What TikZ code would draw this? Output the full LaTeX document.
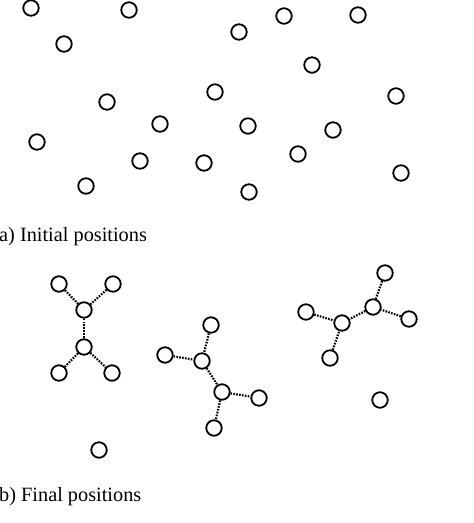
\documentclass[tikz,border=0pt]{standalone}
\usepackage{fontspec}
\setmainfont{Liberation Serif}
\usetikzlibrary{positioning}

\begin{document}
\begin{tikzpicture}[x=1pt,y=-1pt,
    particle/.style={circle,draw,line width=1.8pt,minimum size=15.5pt,inner sep=0pt},
    bond/.style={line width=2.2pt,dash pattern=on 1.6pt off 1.3pt},
    caption/.style={anchor=base west,inner sep=0pt,font=\fontsize{20.3}{24}\selectfont}]
  \useasboundingbox (0,0) rectangle (474,523);

  % (a) initial positions
  \node[particle] (I1)  at (31,8)    {};
  \node[particle] (I2)  at (129,10)  {};
  \node[particle] (I3)  at (64,44)   {};
  \node[particle] (I4)  at (239,32)  {};
  \node[particle] (I5)  at (284,16)  {};
  \node[particle] (I6)  at (358,15)  {};
  \node[particle] (I7)  at (312,65)  {};
  \node[particle] (I8)  at (215,92)  {};
  \node[particle] (I9)  at (107,102) {};
  \node[particle] (I10) at (396,96)  {};
  \node[particle] (I11) at (160,124) {};
  \node[particle] (I12) at (248,126) {};
  \node[particle] (I13) at (333,130) {};
  \node[particle] (I14) at (37,142)  {};
  \node[particle] (I15) at (140,161) {};
  \node[particle] (I16) at (204,163) {};
  \node[particle] (I17) at (298,154) {};
  \node[particle] (I18) at (401,173) {};
  \node[particle] (I19) at (86,186)  {};
  \node[particle] (I20) at (249,192) {};
  \node[caption] (InitialCap) at (-1,241) {a) Initial positions};

  % (b) final positions
  \node[particle] (LeftTL)  at (59,284)  {};
  \node[particle] (LeftTR)  at (113,284) {};
  \node[particle] (LeftUp)  at (84,310)  {};
  \node[particle] (LeftLow) at (84,347)  {};
  \node[particle] (LeftBL)  at (59,373)  {};
  \node[particle] (LeftBR)  at (112,373) {};

  \node[particle] (MidTop)  at (211,325) {};
  \node[particle] (MidLeft) at (165,355) {};
  \node[particle] (MidUp)   at (202,361) {};
  \node[particle] (MidLow)  at (222,392) {};
  \node[particle] (MidRight) at (259,398) {};
  \node[particle] (MidBot)  at (214,428) {};

  \node[particle] (RightTop)  at (385,273) {};
  \node[particle] (RightHub)  at (373,307) {};
  \node[particle] (RightEnd)  at (409,319) {};
  \node[particle] (RightLeft) at (306,312) {};
  \node[particle] (RightMid)  at (342,323) {};
  \node[particle] (RightBot)  at (330,358) {};

  \node[particle] (FreeA) at (380,400) {};
  \node[particle] (FreeB) at (99,450)  {};
  \node[caption] (FinalCap) at (-1,501) {b) Final positions};

  \path[bond]
     (LeftTL) edge (LeftUp)
     (LeftTR) edge (LeftUp)
     (LeftUp) edge (LeftLow)
    (LeftLow) edge (LeftBL)
    (LeftLow) edge (LeftBR)
     (MidTop) edge (MidUp)
    (MidLeft) edge (MidUp)
      (MidUp) edge (MidLow)
     (MidLow) edge (MidRight)
     (MidLow) edge (MidBot)
   (RightTop) edge (RightHub)
   (RightEnd) edge (RightHub)
   (RightHub) edge (RightMid)
  (RightLeft) edge (RightMid)
   (RightBot) edge (RightMid);
\end{tikzpicture}
\end{document}
